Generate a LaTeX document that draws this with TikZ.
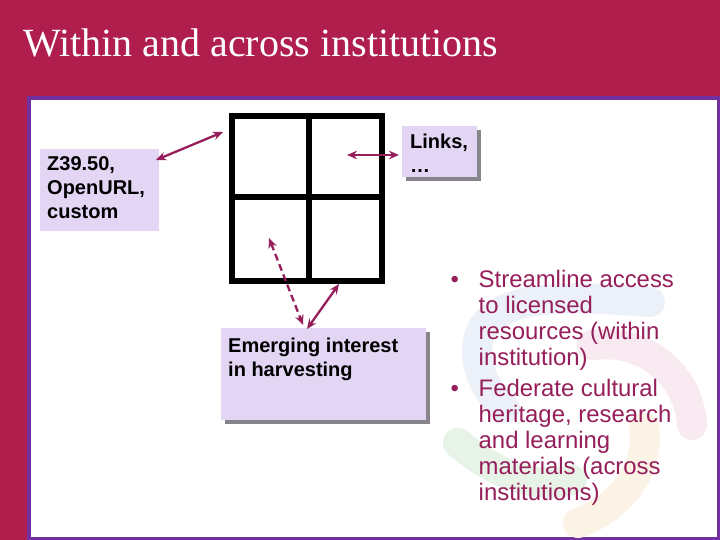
\documentclass[tikz,border=0pt]{standalone}
\usepackage{fontspec}
\setmainfont{Liberation Sans}
\newfontfamily\titlefont{Liberation Serif}
\usetikzlibrary{arrows.meta}
\definecolor{crimson}{RGB}{176,30,78}
\definecolor{violet1}{RGB}{112,48,160}
\definecolor{lilac}{RGB}{226,214,244}
\definecolor{plum}{RGB}{150,30,90}
\definecolor{boxshadow}{RGB}{136,132,140}
\definecolor{wmblue}{RGB}{236,241,249}
\definecolor{wmpink}{RGB}{249,233,240}
\definecolor{wmgreen}{RGB}{232,243,232}
\definecolor{wmorange}{RGB}{251,243,230}
\tikzset{
  box/.style={fill=lilac,inner sep=0pt,anchor=north west},
  shadowbox/.style={fill=boxshadow,inner sep=0pt,anchor=north west},
  lbl/.style={font=\bfseries\fontsize{20}{24}\selectfont,align=left,anchor=base west,inner sep=0pt,text=black},
  link/.style={draw=plum,line width=2.3pt,{Stealth[length=10pt,width=8.5pt]}-{Stealth[length=10pt,width=8.5pt]}},
  bul/.style={font=\fontsize{23.9}{26}\selectfont,text=plum,align=left,anchor=base west,inner sep=0pt},
  wm/.style={line width=30pt,line cap=round}
}
\begin{document}
\begin{tikzpicture}[x=1pt,y=-1pt]
\useasboundingbox (0,0) rectangle (720,540);
\fill[crimson] (0,0) rectangle (720,540);
\fill[white,draw=violet1,line width=4pt] (29,98) rectangle (718.5,538.5);
% watermark
\draw[wm,draw=wmblue] (650,302) .. controls (570,296) and (478,290) .. (477,350) .. controls (477,375) and (490,395) .. (505,408);
\draw[wm,draw=wmpink] (592,345) .. controls (650,338) and (690,380) .. (692,425);
\draw[wm,draw=wmgreen] (458,443) .. controls (490,470) and (530,490) .. (572,480);
\draw[wm,draw=wmorange] (644,428) .. controls (650,470) and (620,508) .. (578,523);
% window grid
\draw[black,line width=6pt] (232,116) rectangle (381.5,281);
\draw[black,line width=6pt] (308.5,116) -- (308.5,281);
\draw[black,line width=6pt] (232,197.5) -- (381.5,197.5);
% boxes
\node[box,minimum width=119pt,minimum height=82pt] (z) at (40,149) {};
\node[shadowbox,minimum width=75pt,minimum height=51pt] (ls) at (406,130) {};
\node[box,minimum width=75pt,minimum height=51pt] (l) at (402,126) {};
\node[shadowbox,minimum width=205pt,minimum height=92pt] (es) at (225,332) {};
\node[box,minimum width=205pt,minimum height=92pt] (e) at (221,328) {};
\node[lbl] (zt) at (47,218.5) {Z39.50,\\OpenURL,\\custom};
\node[lbl] (lt) at (410,173) {Links,\\…};
\node[lbl] (et) at (228,376.5) {Emerging interest\\in harvesting};
% connector ends
\coordinate (a1) at (156,160);
\coordinate (a2) at (223,132);
\coordinate (b1) at (347,155);
\coordinate (b2) at (399,155);
\coordinate (c1) at (269,238);
\coordinate (c2) at (303,325);
\coordinate (d1) at (339,284);
\coordinate (d2) at (307,329);
\draw[link] (a1) -- (a2);
\draw[link] (b1) -- (b2);
\draw[link,dash pattern=on 7pt off 4pt] (c1) -- (c2);
\draw[link] (d1) -- (d2);
% bullets
\node[bul] (s) at (478.5,365) {Streamline access\\to licensed\\resources (within\\institution)};
\node[bul] (f) at (478.5,500) {Federate cultural\\heritage, research\\and learning\\materials (across\\institutions)};
\node[bul] (b1t) at (450.5,287) {•};
\node[bul] (b2t) at (450.5,396) {•};
% title
\node[font=\titlefont\fontsize{40}{42}\selectfont,text=white,anchor=base west,inner sep=0pt] (t) at (23,57) {Within and across institutions};
\end{tikzpicture}
\end{document}
